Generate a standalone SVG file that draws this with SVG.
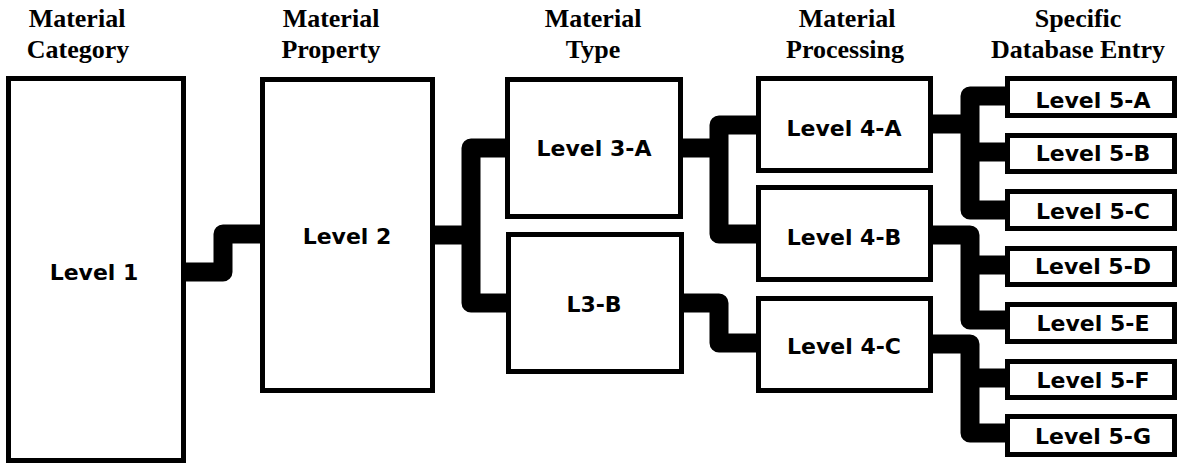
<svg xmlns="http://www.w3.org/2000/svg" width="1178" height="464" viewBox="0 0 1178 464">
<style>
.box{fill:#fff;stroke:#000;stroke-width:5}
.hdr{font-family:"Liberation Serif","Times New Roman",serif;font-weight:bold;font-size:26px;text-anchor:middle;fill:#000}
.lbl{font-family:"DejaVu Sans",sans-serif;font-weight:bold;font-size:22px;text-anchor:middle;fill:#000}
.con{fill:none;stroke:#000;stroke-width:19;stroke-linejoin:round;stroke-linecap:butt}
</style>
<rect width="1178" height="464" fill="#fff"/>
<g id="headers">
<text class="hdr" x="77" y="27">Material</text>
<text class="hdr" x="78" y="58">Category</text>
<text class="hdr" x="331" y="27">Material</text>
<text class="hdr" x="331" y="58">Property</text>
<text class="hdr" x="593" y="27">Material</text>
<text class="hdr" x="593" y="58">Type</text>
<text class="hdr" x="847" y="27">Material</text>
<text class="hdr" x="845" y="58">Processing</text>
<text class="hdr" x="1078" y="27">Specific</text>
<text class="hdr" x="1078" y="58">Database Entry</text>
</g>
<g id="connectors">
<path class="con" d="M186 272 H223 V234 H260"/>
<path class="con" d="M435 235 H471"/>
<path class="con" d="M505 148 H471 V303 H506"/>
<path class="con" d="M683 148 H719"/>
<path class="con" d="M756 125 H719 V234 H756"/>
<path class="con" d="M684 303 H719 V343 H756"/>
<path class="con" d="M933 124 H970"/>
<path class="con" d="M1005 96 H970 V210 H1005"/>
<path class="con" d="M970 152 H1005"/>
<path class="con" d="M933 235 H970 V320 H1005"/>
<path class="con" d="M970 265 H1005"/>
<path class="con" d="M933 344 H970 V433 H1005"/>
<path class="con" d="M970 378 H1005"/>
</g>
<g id="level1"><rect class="box" x="8.5" y="78.5" width="175" height="382"/><text class="lbl" x="94" y="280">Level 1</text></g>
<g id="level2"><rect class="box" x="262.5" y="79.5" width="170" height="311"/><text class="lbl" x="347" y="244">Level 2</text></g>
<g id="level3a"><rect class="box" x="507.5" y="79.5" width="173" height="137"/><text class="lbl" x="594" y="156">Level 3-A</text></g>
<g id="level3b"><rect class="box" x="508.5" y="234.5" width="173" height="137"/><text class="lbl" x="594" y="312">L3-B</text></g>
<g id="level4a"><rect class="box" x="758.5" y="78.5" width="172" height="92"/><text class="lbl" x="844" y="136">Level 4-A</text></g>
<g id="level4b"><rect class="box" x="758.5" y="187.5" width="172" height="92"/><text class="lbl" x="844" y="245">Level 4-B</text></g>
<g id="level4c"><rect class="box" x="758.5" y="298.5" width="172" height="92"/><text class="lbl" x="844" y="354">Level 4-C</text></g>
<g id="level5a"><rect class="box" x="1007.5" y="78.5" width="167" height="37"/><text class="lbl" x="1093" y="108">Level 5-A</text></g>
<g id="level5b"><rect class="box" x="1007.5" y="135.5" width="167" height="36"/><text class="lbl" x="1093" y="161">Level 5-B</text></g>
<g id="level5c"><rect class="box" x="1007.5" y="191.5" width="167" height="37"/><text class="lbl" x="1093" y="219">Level 5-C</text></g>
<g id="level5d"><rect class="box" x="1007.5" y="248.5" width="167" height="36"/><text class="lbl" x="1093" y="274">Level 5-D</text></g>
<g id="level5e"><rect class="box" x="1007.5" y="304.5" width="167" height="37"/><text class="lbl" x="1093" y="331">Level 5-E</text></g>
<g id="level5f"><rect class="box" x="1007.5" y="361.5" width="167" height="36"/><text class="lbl" x="1093" y="388">Level 5-F</text></g>
<g id="level5g"><rect class="box" x="1007.5" y="416.5" width="167" height="38"/><text class="lbl" x="1093" y="444">Level 5-G</text></g>
</svg>
